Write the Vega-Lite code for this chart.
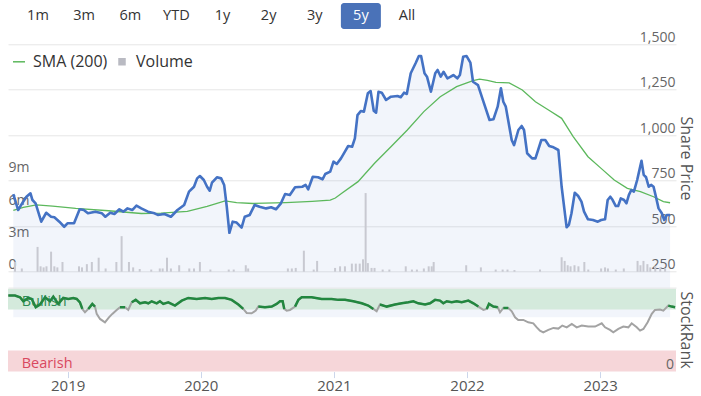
{
"$schema":"https://vega.github.io/schema/vega-lite/v6.json",
"background":"white",
"padding":{"left":3,"top":3,"right":8,"bottom":0},
"autosize":{"type":"pad"},
"bounds":"flush",
"spacing":15.3,
"resolve":{"legend":{"fill":"independent","stroke":"independent","shape":"independent","size":"independent"}},
"config":{"view":{"stroke":null},"font":"Open Sans"},
"datasets":{
"buttons":[{"b":"1m"},{"b":"3m"},{"b":"6m"},{"b":"YTD"},{"b":"1y"},{"b":"2y"},{"b":"3y"},{"b":"5y"},{"b":"All"}],
"legend":[{"s":"SMA (200)"},{"s":"Volume"}],
"bands":[{"band":"Bullish","lo":73.8,"hi":98.5},{"band":"Bearish","lo":0,"hi":25}],
"price":[{"t":2018.554,"p":677},{"t":2018.591,"p":589},{"t":2018.629,"p":635},{"t":2018.654,"p":662},{"t":2018.685,"p":681},{"t":2018.700,"p":644},{"t":2018.724,"p":626},{"t":2018.767,"p":525},{"t":2018.805,"p":574},{"t":2018.842,"p":552},{"t":2018.867,"p":549},{"t":2018.905,"p":525},{"t":2018.942,"p":497},{"t":2018.967,"p":516},{"t":2019.017,"p":516},{"t":2019.060,"p":593},{"t":2019.092,"p":589},{"t":2019.123,"p":571},{"t":2019.180,"p":580},{"t":2019.230,"p":571},{"t":2019.256,"p":552},{"t":2019.293,"p":574},{"t":2019.325,"p":567},{"t":2019.363,"p":593},{"t":2019.393,"p":580},{"t":2019.425,"p":598},{"t":2019.461,"p":589},{"t":2019.493,"p":613},{"t":2019.530,"p":598},{"t":2019.581,"p":580},{"t":2019.631,"p":571},{"t":2019.656,"p":562},{"t":2019.706,"p":567},{"t":2019.756,"p":552},{"t":2019.806,"p":589},{"t":2019.857,"p":617},{"t":2019.894,"p":690},{"t":2019.932,"p":717},{"t":2019.956,"p":763},{"t":2019.977,"p":776},{"t":2020.007,"p":754},{"t":2020.032,"p":717},{"t":2020.052,"p":695},{"t":2020.069,"p":739},{"t":2020.107,"p":769},{"t":2020.139,"p":763},{"t":2020.162,"p":727},{"t":2020.182,"p":607},{"t":2020.202,"p":464},{"t":2020.227,"p":525},{"t":2020.257,"p":520},{"t":2020.295,"p":492},{"t":2020.319,"p":552},{"t":2020.357,"p":562},{"t":2020.395,"p":617},{"t":2020.432,"p":607},{"t":2020.482,"p":598},{"t":2020.520,"p":604},{"t":2020.557,"p":593},{"t":2020.595,"p":626},{"t":2020.627,"p":677},{"t":2020.663,"p":672},{"t":2020.703,"p":714},{"t":2020.758,"p":717},{"t":2020.783,"p":727},{"t":2020.803,"p":703},{"t":2020.838,"p":772},{"t":2020.878,"p":769},{"t":2020.913,"p":758},{"t":2020.933,"p":787},{"t":2020.971,"p":800},{"t":2020.996,"p":855},{"t":2021.021,"p":842},{"t":2021.053,"p":873},{"t":2021.083,"p":910},{"t":2021.108,"p":941},{"t":2021.138,"p":937},{"t":2021.159,"p":983},{"t":2021.179,"p":1111},{"t":2021.204,"p":1133},{"t":2021.228,"p":1130},{"t":2021.258,"p":1231},{"t":2021.279,"p":1243},{"t":2021.303,"p":1135},{"t":2021.321,"p":1124},{"t":2021.339,"p":1239},{"t":2021.364,"p":1234},{"t":2021.397,"p":1194},{"t":2021.434,"p":1212},{"t":2021.484,"p":1216},{"t":2021.509,"p":1209},{"t":2021.534,"p":1234},{"t":2021.555,"p":1227},{"t":2021.585,"p":1341},{"t":2021.622,"p":1396},{"t":2021.647,"p":1436},{"t":2021.664,"p":1436},{"t":2021.690,"p":1341},{"t":2021.709,"p":1322},{"t":2021.739,"p":1239},{"t":2021.772,"p":1341},{"t":2021.790,"p":1359},{"t":2021.814,"p":1322},{"t":2021.835,"p":1349},{"t":2021.865,"p":1313},{"t":2021.890,"p":1322},{"t":2021.910,"p":1331},{"t":2021.940,"p":1313},{"t":2021.960,"p":1331},{"t":2021.985,"p":1432},{"t":2022.010,"p":1436},{"t":2022.040,"p":1399},{"t":2022.060,"p":1294},{"t":2022.098,"p":1276},{"t":2022.135,"p":1194},{"t":2022.186,"p":1084},{"t":2022.216,"p":1088},{"t":2022.248,"p":1157},{"t":2022.273,"p":1258},{"t":2022.291,"p":1184},{"t":2022.310,"p":1157},{"t":2022.355,"p":974},{"t":2022.373,"p":946},{"t":2022.406,"p":1029},{"t":2022.431,"p":1051},{"t":2022.449,"p":1029},{"t":2022.473,"p":901},{"t":2022.511,"p":873},{"t":2022.536,"p":873},{"t":2022.581,"p":974},{"t":2022.611,"p":974},{"t":2022.641,"p":941},{"t":2022.674,"p":934},{"t":2022.711,"p":919},{"t":2022.736,"p":717},{"t":2022.774,"p":494},{"t":2022.791,"p":507},{"t":2022.811,"p":571},{"t":2022.836,"p":684},{"t":2022.862,"p":666},{"t":2022.887,"p":635},{"t":2022.907,"p":580},{"t":2022.937,"p":538},{"t":2022.975,"p":534},{"t":2023.012,"p":525},{"t":2023.037,"p":534},{"t":2023.067,"p":538},{"t":2023.087,"p":644},{"t":2023.107,"p":662},{"t":2023.125,"p":644},{"t":2023.149,"p":611},{"t":2023.167,"p":611},{"t":2023.187,"p":653},{"t":2023.212,"p":644},{"t":2023.230,"p":626},{"t":2023.249,"p":672},{"t":2023.267,"p":699},{"t":2023.287,"p":690},{"t":2023.312,"p":754},{"t":2023.332,"p":818},{"t":2023.345,"p":860},{"t":2023.362,"p":782},{"t":2023.380,"p":769},{"t":2023.400,"p":717},{"t":2023.418,"p":727},{"t":2023.437,"p":717},{"t":2023.458,"p":653},{"t":2023.475,"p":598},{"t":2023.500,"p":571},{"t":2023.518,"p":534},{"t":2023.538,"p":562},{"t":2023.563,"p":562}],
"sma":[{"t":2018.554,"s":587},{"t":2018.630,"s":603},{"t":2018.730,"s":617},{"t":2018.854,"s":611},{"t":2019.030,"s":598},{"t":2019.280,"s":585},{"t":2019.530,"s":570},{"t":2019.681,"s":572},{"t":2019.881,"s":582},{"t":2020.032,"s":609},{"t":2020.169,"s":639},{"t":2020.257,"s":630},{"t":2020.382,"s":625},{"t":2020.633,"s":630},{"t":2020.833,"s":637},{"t":2020.971,"s":644},{"t":2021.010,"s":655},{"t":2021.059,"s":681},{"t":2021.183,"s":745},{"t":2021.309,"s":846},{"t":2021.434,"s":937},{"t":2021.559,"s":1029},{"t":2021.685,"s":1130},{"t":2021.810,"s":1212},{"t":2021.935,"s":1267},{"t":2022.060,"s":1300},{"t":2022.110,"s":1308},{"t":2022.170,"s":1302},{"t":2022.235,"s":1291},{"t":2022.336,"s":1288},{"t":2022.436,"s":1249},{"t":2022.536,"s":1184},{"t":2022.636,"s":1139},{"t":2022.736,"s":1093},{"t":2022.824,"s":992},{"t":2022.937,"s":882},{"t":2023.037,"s":818},{"t":2023.137,"s":754},{"t":2023.237,"s":708},{"t":2023.337,"s":690},{"t":2023.437,"s":662},{"t":2023.512,"s":635},{"t":2023.563,"s":629}],
"volume":[{"t":2018.567,"v":0.9},{"t":2018.619,"v":0.3},{"t":2018.739,"v":2.3},{"t":2018.762,"v":0.5},{"t":2018.785,"v":0.4},{"t":2018.807,"v":0.5},{"t":2018.842,"v":1.86},{"t":2018.867,"v":0.5},{"t":2018.890,"v":0.4},{"t":2018.929,"v":0.9},{"t":2019.055,"v":0.5},{"t":2019.078,"v":0.4},{"t":2019.115,"v":0.7},{"t":2019.153,"v":0.9},{"t":2019.205,"v":1.3},{"t":2019.258,"v":0.3},{"t":2019.340,"v":0.9},{"t":2019.380,"v":3.3},{"t":2019.436,"v":0.9},{"t":2019.468,"v":0.4},{"t":2019.518,"v":0.25},{"t":2019.606,"v":0.2},{"t":2019.671,"v":0.3},{"t":2019.693,"v":0.3},{"t":2019.726,"v":1.3},{"t":2019.756,"v":0.3},{"t":2019.819,"v":0.6},{"t":2019.896,"v":0.3},{"t":2019.932,"v":0.3},{"t":2019.977,"v":0.9},{"t":2020.057,"v":0.2},{"t":2020.197,"v":0.2},{"t":2020.235,"v":0.2},{"t":2020.327,"v":0.6},{"t":2020.345,"v":0.3},{"t":2020.648,"v":0.3},{"t":2020.678,"v":0.3},{"t":2020.708,"v":0.35},{"t":2020.770,"v":1.95},{"t":2020.845,"v":0.2},{"t":2020.871,"v":1.0},{"t":2021.008,"v":0.35},{"t":2021.046,"v":0.5},{"t":2021.083,"v":0.5},{"t":2021.136,"v":0.75},{"t":2021.166,"v":0.75},{"t":2021.196,"v":0.75},{"t":2021.221,"v":1.15},{"t":2021.241,"v":7.3},{"t":2021.258,"v":0.8},{"t":2021.286,"v":0.35},{"t":2021.309,"v":0.35},{"t":2021.371,"v":0.2},{"t":2021.422,"v":0.2},{"t":2021.547,"v":0.5},{"t":2021.594,"v":0.2},{"t":2021.632,"v":0.2},{"t":2021.685,"v":0.3},{"t":2021.722,"v":0.5},{"t":2021.745,"v":0.5},{"t":2021.760,"v":0.9},{"t":2022.008,"v":0.6},{"t":2022.120,"v":0.4},{"t":2022.233,"v":0.2},{"t":2022.286,"v":0.2},{"t":2022.323,"v":0.2},{"t":2022.376,"v":0.15},{"t":2022.571,"v":0.2},{"t":2022.736,"v":1.34},{"t":2022.759,"v":1.0},{"t":2022.782,"v":0.6},{"t":2022.804,"v":0.5},{"t":2022.834,"v":0.6},{"t":2022.864,"v":0.5},{"t":2022.909,"v":0.9},{"t":2022.939,"v":0.2},{"t":2023.037,"v":0.3},{"t":2023.067,"v":0.4},{"t":2023.089,"v":0.3},{"t":2023.149,"v":0.2},{"t":2023.210,"v":0.3},{"t":2023.315,"v":1.0},{"t":2023.337,"v":0.6},{"t":2023.360,"v":1.0},{"t":2023.390,"v":0.7},{"t":2023.412,"v":0.4},{"t":2023.450,"v":0.5},{"t":2023.488,"v":0.4},{"t":2023.525,"v":0.3}],
"rank":[{"t":2018.554,"r":90.5,"g":90.5},{"t":2018.604,"r":90.5,"g":90.5},{"t":2018.642,"r":88.5,"g":88.5},{"t":2018.667,"r":83.7,"g":83.7},{"t":2018.704,"r":87.7,"g":87.7},{"t":2018.730,"r":86.5,"g":86.5},{"t":2018.760,"r":76.6,"g":76.6},{"t":2018.792,"r":79.8,"g":79.8},{"t":2018.830,"r":88.5,"g":88.5},{"t":2018.867,"r":83.7,"g":83.7},{"t":2018.892,"r":89.3,"g":89.3},{"t":2018.929,"r":80.6,"g":80.6},{"t":2018.967,"r":87.7,"g":87.7},{"t":2019.005,"r":86.5,"g":86.5},{"t":2019.042,"r":87.7,"g":87.7},{"t":2019.068,"r":86.5,"g":86.5},{"t":2019.092,"r":82.5,"g":82.5},{"t":2019.110,"r":74.6,"g":74.6},{"t":2019.130,"r":70.6,"g":null},{"t":2019.155,"r":74.6,"g":74.6},{"t":2019.185,"r":80.6,"g":80.6},{"t":2019.205,"r":77.4,"g":77.4},{"t":2019.218,"r":68.7,"g":null},{"t":2019.243,"r":62.7,"g":null},{"t":2019.280,"r":58.7,"g":null},{"t":2019.310,"r":64.6,"g":null},{"t":2019.335,"r":68.7,"g":null},{"t":2019.368,"r":73.4,"g":null},{"t":2019.393,"r":76.6,"g":76.6},{"t":2019.431,"r":76.6,"g":76.6},{"t":2019.455,"r":73.4,"g":null},{"t":2019.481,"r":82.5,"g":82.5},{"t":2019.511,"r":85.4,"g":85.4},{"t":2019.543,"r":81.3,"g":81.3},{"t":2019.581,"r":82.5,"g":82.5},{"t":2019.606,"r":81.3,"g":81.3},{"t":2019.631,"r":83.7,"g":83.7},{"t":2019.669,"r":81.3,"g":81.3},{"t":2019.693,"r":83.7,"g":83.7},{"t":2019.718,"r":80.6,"g":80.6},{"t":2019.756,"r":82.5,"g":82.5},{"t":2019.806,"r":78.6,"g":78.6},{"t":2019.857,"r":84.5,"g":84.5},{"t":2019.906,"r":87.7,"g":87.7},{"t":2019.969,"r":86.5,"g":86.5},{"t":2020.032,"r":87.7,"g":87.7},{"t":2020.082,"r":86.5,"g":86.5},{"t":2020.132,"r":87.7,"g":87.7},{"t":2020.182,"r":87.7,"g":87.7},{"t":2020.232,"r":85.4,"g":85.4},{"t":2020.282,"r":79.8,"g":79.8},{"t":2020.319,"r":74.6,"g":74.6},{"t":2020.345,"r":69.8,"g":null},{"t":2020.382,"r":69.4,"g":null},{"t":2020.413,"r":72.6,"g":null},{"t":2020.432,"r":77.4,"g":77.4},{"t":2020.482,"r":76.6,"g":76.6},{"t":2020.533,"r":77.4,"g":77.4},{"t":2020.570,"r":80.6,"g":80.6},{"t":2020.595,"r":83.7,"g":83.7},{"t":2020.615,"r":83.7,"g":83.7},{"t":2020.627,"r":74.6,"g":74.6},{"t":2020.645,"r":72.6,"g":null},{"t":2020.670,"r":73.4,"g":null},{"t":2020.708,"r":77.4,"g":77.4},{"t":2020.733,"r":85.4,"g":85.4},{"t":2020.758,"r":88.5,"g":88.5},{"t":2020.833,"r":88.5,"g":88.5},{"t":2020.908,"r":86.5,"g":86.5},{"t":2020.983,"r":86.5,"g":86.5},{"t":2021.033,"r":85.4,"g":85.4},{"t":2021.083,"r":85.4,"g":85.4},{"t":2021.146,"r":83.7,"g":83.7},{"t":2021.209,"r":81.3,"g":81.3},{"t":2021.258,"r":78.6,"g":78.6},{"t":2021.296,"r":74.6,"g":74.6},{"t":2021.321,"r":71.8,"g":null},{"t":2021.346,"r":79.8,"g":79.8},{"t":2021.397,"r":77.4,"g":77.4},{"t":2021.459,"r":79.8,"g":79.8},{"t":2021.509,"r":81.3,"g":81.3},{"t":2021.559,"r":82.5,"g":82.5},{"t":2021.597,"r":83.7,"g":83.7},{"t":2021.634,"r":81.3,"g":81.3},{"t":2021.685,"r":79.8,"g":79.8},{"t":2021.722,"r":81.3,"g":81.3},{"t":2021.760,"r":85.4,"g":85.4},{"t":2021.797,"r":84.5,"g":84.5},{"t":2021.822,"r":81.3,"g":81.3},{"t":2021.848,"r":83.7,"g":83.7},{"t":2021.885,"r":82.5,"g":82.5},{"t":2021.923,"r":83.7,"g":83.7},{"t":2021.960,"r":82.5,"g":82.5},{"t":2022.010,"r":84.5,"g":84.5},{"t":2022.048,"r":81.3,"g":81.3},{"t":2022.085,"r":77.4,"g":77.4},{"t":2022.123,"r":73.4,"g":null},{"t":2022.148,"r":74.6,"g":74.6},{"t":2022.165,"r":80.6,"g":80.6},{"t":2022.198,"r":77.4,"g":77.4},{"t":2022.231,"r":76.6,"g":76.6},{"t":2022.248,"r":70.6,"g":null},{"t":2022.273,"r":75.8,"g":75.8},{"t":2022.310,"r":75.8,"g":75.8},{"t":2022.336,"r":71.8,"g":null},{"t":2022.361,"r":64.6,"g":null},{"t":2022.385,"r":61.5,"g":null},{"t":2022.423,"r":61.5,"g":null},{"t":2022.460,"r":58.7,"g":null},{"t":2022.498,"r":57.5,"g":null},{"t":2022.524,"r":52.7,"g":null},{"t":2022.548,"r":48.8,"g":null},{"t":2022.573,"r":46.8,"g":null},{"t":2022.611,"r":49.6,"g":null},{"t":2022.649,"r":52.0,"g":null},{"t":2022.686,"r":51.2,"g":null},{"t":2022.716,"r":54.8,"g":null},{"t":2022.749,"r":52.7,"g":null},{"t":2022.787,"r":56.8,"g":null},{"t":2022.824,"r":52.7,"g":null},{"t":2022.862,"r":54.8,"g":null},{"t":2022.911,"r":53.6,"g":null},{"t":2022.962,"r":53.6,"g":null},{"t":2023.012,"r":57.5,"g":null},{"t":2023.037,"r":52.7,"g":null},{"t":2023.074,"r":49.6,"g":null},{"t":2023.099,"r":46.8,"g":null},{"t":2023.137,"r":50.8,"g":null},{"t":2023.174,"r":53.6,"g":null},{"t":2023.212,"r":52.7,"g":null},{"t":2023.237,"r":57.5,"g":null},{"t":2023.275,"r":52.7,"g":null},{"t":2023.300,"r":48.8,"g":null},{"t":2023.325,"r":50.8,"g":null},{"t":2023.357,"r":58.7,"g":null},{"t":2023.388,"r":68.7,"g":null},{"t":2023.412,"r":73.4,"g":null},{"t":2023.450,"r":74.0,"g":null},{"t":2023.475,"r":72.6,"g":null},{"t":2023.512,"r":78.6,"g":78.6},{"t":2023.538,"r":77.4,"g":77.4},{"t":2023.563,"r":76.6,"g":76.6}]
},
"vconcat":[
{
"width":429,"height":26,
"data":{"name":"buttons"},
"layer":[
{"transform":[{"filter":"datum.b == '5y'"}],
"mark":{"type":"bar","width":40,"cornerRadius":3,"color":"#4a72b8"},
"encoding":{
"x":{"field":"b","type":"nominal","sort":null,"scale":{"domain":["1m","3m","6m","YTD","1y","2y","3y","5y","All"],"paddingInner":0,"paddingOuter":0.15},"axis":null},
"y":{"datum":0,"type":"quantitative","scale":{"domain":[0,1]},"axis":null},
"y2":{"datum":1}}},
{"mark":{"type":"text","fontSize":14.5},
"encoding":{
"x":{"field":"b","type":"nominal","sort":null,"scale":{"domain":["1m","3m","6m","YTD","1y","2y","3y","5y","All"],"paddingInner":0,"paddingOuter":0.15},"axis":null},
"text":{"field":"b"},
"color":{"condition":{"test":"datum.b == '5y'","value":"#ffffff"},"value":"#333333"}}}
]
},
{
"width":668,"height":227.4,
"resolve":{"scale":{"y":"independent"}},
"layer":[
{"data":{"name":"price"},
"mark":{"type":"area","fill":"#4472c4","fillOpacity":0.07},
"encoding":{
"x":{"field":"t","type":"quantitative","scale":{"domain":[2018.5516,2023.57],"nice":false,"zero":false},"axis":null},
"y":{"field":"p","type":"quantitative","scale":{"domain":[250,1500],"nice":false,"zero":false},
"axis":{"orient":"right","values":[250,500,750,1000,1250,1500],"labelExpr":"format(datum.value, ',.0f')","title":"Share Price","titleFontSize":16,"titleFontWeight":"normal","titleColor":"#555555","titlePadding":1,"grid":true,"gridColor":"#e6e6e6","domain":false,"ticks":false,"tickSize":0,"labelAlign":"right","labelPadding":-1,"labelBaseline":"alphabetic","labelOffset":-3,"labelFontSize":14,"labelColor":"#666666","labelOverlap":false}}}},
{"data":{"name":"volume"},
"mark":{"type":"bar","width":2,"color":"#c8c9d1"},
"encoding":{
"x":{"field":"t","type":"quantitative","scale":{"domain":[2018.5516,2023.57],"nice":false,"zero":false},"axis":null},
"y":{"field":"v","type":"quantitative","scale":{"domain":[0,21.11],"nice":false},
"axis":{"orient":"left","values":[0,3,6,9],"labelExpr":"datum.value == 0 ? '0' : datum.value + 'm'","title":null,"grid":false,"domain":false,"ticks":false,"tickSize":0,"labelAlign":"left","labelPadding":0,"labelBaseline":"alphabetic","labelOffset":-3,"labelFontSize":14,"labelColor":"#666666","labelOverlap":false}}}},
{"data":{"name":"sma"},
"mark":{"type":"line","color":"#5cb85c","strokeWidth":1.3},
"encoding":{
"x":{"field":"t","type":"quantitative","scale":{"domain":[2018.5516,2023.57],"nice":false,"zero":false},"axis":null},
"y":{"field":"s","type":"quantitative","scale":{"domain":[250,1500],"nice":false,"zero":false},"axis":null}}},
{"data":{"name":"price"},
"mark":{"type":"line","color":"#4472c4","strokeWidth":2.6,"strokeJoin":"round"},
"encoding":{
"x":{"field":"t","type":"quantitative","scale":{"domain":[2018.5516,2023.57],"nice":false,"zero":false},"axis":null},
"y":{"field":"p","type":"quantitative","scale":{"domain":[250,1500],"nice":false,"zero":false},"axis":null}}},
{"data":{"name":"legend"},
"mark":{"type":"point","opacity":0,"filled":true},
"encoding":{
"fill":{"field":"s","type":"nominal","scale":{"domain":["SMA (200)","Volume"],"range":["#5cb85c","#b9bac2"]},"legend":{"title":null,"orient":"none","legendX":3,"legendY":9.5,"direction":"horizontal","padding":0,"labelFontSize":16,"labelColor":"#333333","labelOffset":6,"columnPadding":6,"symbolStrokeWidth":1.5,"encode":{"symbols":{"update":{"fill":{"value":"#b9bac2"},"opacity":{"value":1}}}}}},
"stroke":{"field":"s","type":"nominal","scale":{"domain":["SMA (200)","Volume"],"range":["#5cb85c","#b9bac2"]},"legend":{"title":null,"orient":"none","legendX":3,"legendY":9.5,"direction":"horizontal","padding":0,"labelFontSize":16,"labelColor":"#333333","labelOffset":6,"columnPadding":6,"symbolStrokeWidth":1.5,"encode":{"symbols":{"update":{"fill":{"value":"#b9bac2"},"opacity":{"value":1}}}}}},
"shape":{"field":"s","type":"nominal","scale":{"domain":["SMA (200)","Volume"],"range":["stroke","square"]},"legend":{"title":null,"orient":"none","legendX":3,"legendY":9.5,"direction":"horizontal","padding":0,"labelFontSize":16,"labelColor":"#333333","labelOffset":6,"columnPadding":6,"symbolStrokeWidth":1.5,"encode":{"symbols":{"update":{"fill":{"value":"#b9bac2"},"opacity":{"value":1}}}}}},
"size":{"field":"s","type":"nominal","scale":{"domain":["SMA (200)","Volume"],"range":[144,36]},"legend":{"title":null,"orient":"none","legendX":3,"legendY":9.5,"direction":"horizontal","padding":0,"labelFontSize":16,"labelColor":"#333333","labelOffset":6,"columnPadding":6,"symbolStrokeWidth":1.5,"encode":{"symbols":{"update":{"fill":{"value":"#b9bac2"},"opacity":{"value":1}}}}}}}}
]
},
{
"width":668,"height":84,
"layer":[
{"data":{"name":"bands"},
"mark":{"type":"rect"},
"encoding":{
"x":{"datum":2018.5516,"type":"quantitative","scale":{"domain":[2018.5516,2023.57],"nice":false,"zero":false},"axis":{"values":[2019,2020,2021,2022,2023],"format":"d","title":null,"grid":false,"domain":false,"ticks":true,"tickSize":6,"tickColor":"#ccd6eb","labelFontSize":15,"labelColor":"#555555","labelPadding":1,"labelFlush":false,"labelOverlap":false}},
"x2":{"datum":2023.57},
"y":{"field":"lo","type":"quantitative","scale":{"domain":[0,100],"nice":false,"zero":false},"axis":{"orient":"right","values":[0,100],"labelExpr":"datum.value == 0 ? '0' : ''","title":"StockRank","titleFontSize":16,"titleFontWeight":"normal","titleColor":"#555555","titlePadding":1,"grid":true,"gridColor":{"condition":{"test":"datum.value == 100","value":"#e6e6e6"},"value":"transparent"},"domain":false,"ticks":false,"tickSize":0,"labelAlign":"right","labelPadding":-2.5,"labelBaseline":"alphabetic","labelOffset":-3,"labelFontSize":14,"labelColor":"#666666","labelOverlap":false,"labelFlush":false,"zindex":1}},
"y2":{"field":"hi"},
"color":{"condition":{"test":"datum.band == 'Bullish'","value":"#d4eadc"},"value":"#f6d6d9"}}},
{"data":{"name":"bands"},
"mark":{"type":"text","align":"left","baseline":"bottom","dy":-1,"fontSize":14.5},
"encoding":{
"x":{"datum":2018.654,"type":"quantitative"},
"y":{"field":"lo","type":"quantitative"},
"text":{"field":"band"},
"color":{"condition":{"test":"datum.band == 'Bullish'","value":"#2e8b57"},"value":"#d9485f"}}},
{"data":{"name":"rank"},
"mark":{"type":"line","color":"#a3a3a3","strokeWidth":2},
"encoding":{
"x":{"field":"t","type":"quantitative"},
"y":{"field":"r","type":"quantitative"}}},
{"data":{"name":"rank"},
"mark":{"type":"line","color":"#22873f","strokeWidth":2.5,"invalid":"break-paths-filter-domains"},
"encoding":{
"x":{"field":"t","type":"quantitative"},
"y":{"field":"g","type":"quantitative"}}}
]
}
]
}
